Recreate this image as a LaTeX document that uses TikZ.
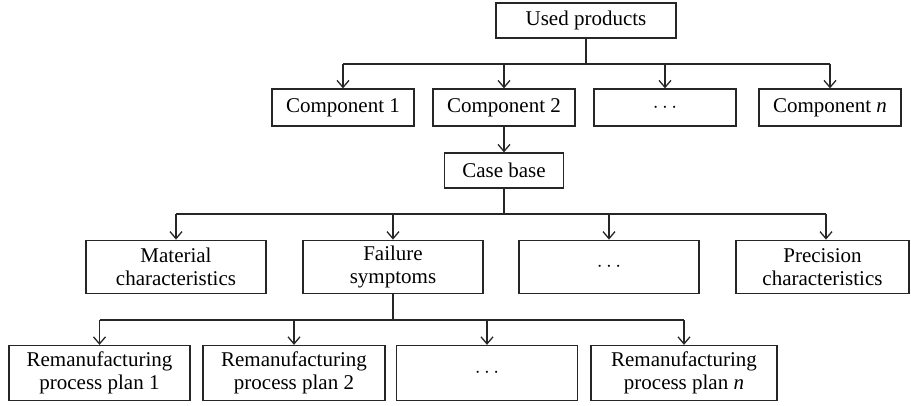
\documentclass[tikz,border=0pt]{standalone}
\usepackage{fontspec}
\setmainfont{Liberation Serif}
\usetikzlibrary{arrows.meta}
\begin{document}
\begin{tikzpicture}[x=1pt,y=-1pt,
  box/.style={draw=black!85, line width=1.3pt, inner sep=0pt, align=center,
    font=\fontsize{21}{23}\selectfont},
  conn/.style={draw=black!85, line width=1.3pt},
  arr/.style={draw=black!85, line width=1.3pt, -{Straight Barb[length=7pt,width=12pt]}}]
\useasboundingbox (0,0) rectangle (911,406);
% top
\node[box, minimum width=180pt, minimum height=35pt] (up) at (586,20.5) {Used products};
% components
\tikzset{comp/.style={box, minimum width=142pt, minimum height=37pt}}
\node[comp] (c1) at (343,107.5) {Component 1};
\node[comp] (c2) at (504,107.5) {Component 2};
\node[comp] (c3) at (665,107.5) {$\cdots$};
\node[comp] (cn) at (830,107.5) {Component \textit{n}};
% case base
\node[box, minimum width=119pt, minimum height=35pt] (cb) at (504,170.5) {Case base};
% row 3
\tikzset{attr/.style={box, minimum width=180pt, minimum height=53.5pt}}
\node[attr] (m1) at (176,267) {Material\\characteristics};
\node[attr] (fs) at (393,267) {Failure\\symptoms};
\node[attr] (m3) at (609,267) {$\cdots$};
\node[attr, minimum width=173pt] (pr) at (822.5,267) {Precision\\characteristics};
% row 4
\tikzset{plan/.style={box, minimum width=181pt, minimum height=55pt}}
\node[plan] (r1) at (99.5,373) {Remanufacturing\\process plan 1};
\node[plan, minimum width=182pt] (r2) at (294,373) {Remanufacturing\\process plan 2};
\node[plan] (r3) at (487,373) {$\cdots$};
\node[plan, minimum width=186pt] (rn) at (684,373) {Remanufacturing\\process plan \textit{n}};
% junction coordinates
\coordinate (j1) at (586,64);
\coordinate (j2) at (504,214);
\coordinate (p4) at (826,214);
\coordinate (j3) at (393,320);
% connectors level 1
\draw[conn] (up.south) -- (j1);
\draw[conn] (c1 |- j1) -- (cn |- j1);
\foreach \n in {c1,c2,c3,cn} \draw[arr] (\n |- j1) -- (\n.north);
% component 2 to case base
\draw[arr] (c2.south) -- (cb.north);
% level 2
\draw[conn] (cb.south) -- (j2);
\draw[conn] (m1 |- j2) -- (p4);
\foreach \n in {m1,fs,m3} \draw[arr] (\n |- j2) -- (\n.north);
\draw[arr] (p4) -- (p4 |- pr.north);
% level 3
\draw[conn] (fs.south) -- (j3);
\draw[conn] (r1 |- j3) -- (rn |- j3);
\foreach \n in {r1,r2,r3,rn} \draw[arr] (\n |- j3) -- (\n.north);
\end{tikzpicture}
\end{document}
